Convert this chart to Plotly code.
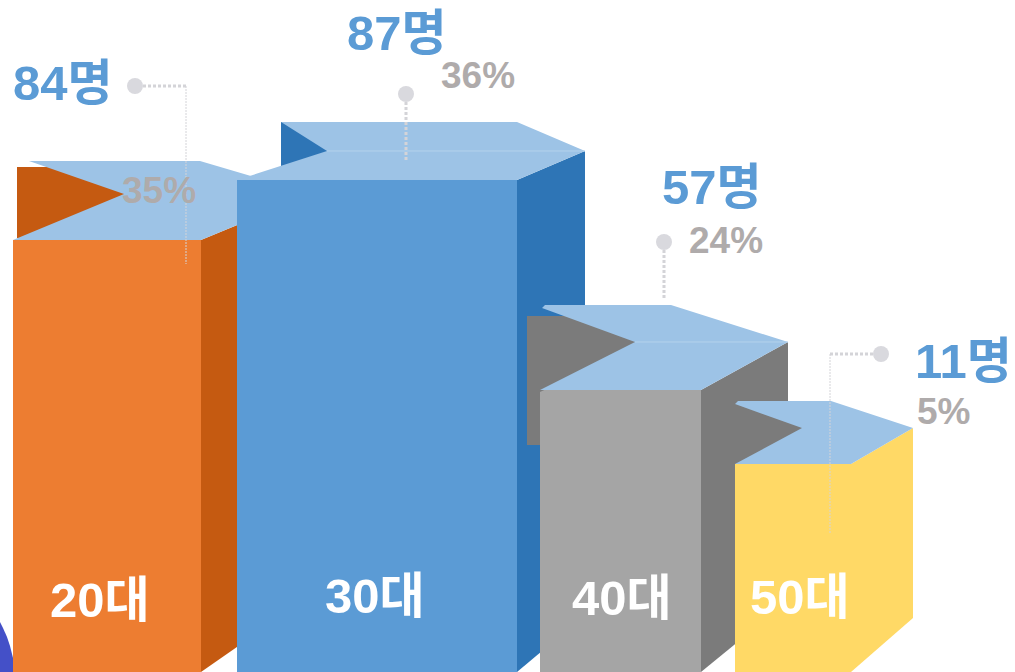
import plotly.graph_objects as go

# ---- data ----
categories = ["20대", "30대", "40대", "50대"]
counts = [84, 87, 57, 11]
shares = [35, 36, 24, 5]
drawn_heights = [432, 492, 282, 208]

# ---- layout of the pictogram (px) ----
W, H = 1015, 672
FRONT_LEFT = [13, 237, 540, 735]
FRONT_WIDTH = [188, 280, 161, 116]
SIDE_DX = [111, 68, 87, 62]
SIDE_DY = [46, 29, 48, 36]
BOTTOM_DY = [77, 57, 71, 54]
BACK_RISE = [79, 58, 85, 63]
BACK_RIGHT_DX = [-1, 0, -30, -20]
BACK_LEFT = [29, 281, 542, 735]
BACK_CHAMFER = [0, 0, 3, 3]
NOTCH_X = [124, 327, 635, 802]
SHOW_RIDGE = [False, True, True, False]
WELL_POLY = [
    [(17, 167), (130, 167), (130, 238), (17, 238)],
    [(281, 122), (335, 122), (335, 172), (281, 172)],
    [(527, 316), (640, 316), (640, 345), (540, 392), (540, 445), (527, 445)],
    [(737, 404), (810, 404), (810, 440), (737, 462)],
]
FRONT_COL = ["#ED7D31", "#5B9BD5", "#A5A5A5", "#FFD966"]
SIDE_COL = ["#C55A11", "#2E75B6", "#7B7B7B", "#FFD966"]
WELL_COL = ["#C55A11", "#2E75B6", "#7B7B7B", "#7B7B7B"]
TOP_COL = "#9DC3E6"
RIDGE_COL = "#B4D2EC"
BLUE = "#5B9BD5"
GREY = "#AFABAB"
DOT = "#D9D9DE"
LEADER = "#D4D4D8"
FONT = "Liberation Sans, Noto Sans CJK KR, sans-serif"

COUNT_POS = [(13, 83), (347, 33), (662, 187), (915, 361)]
SHARE_POS = [(122, 190), (441, 75), (689, 240), (917, 411)]
CAT_POS = [(50, 600), (325, 596), (572, 598), (750, 597)]
DOT_POS = [(135, 86), (406, 94), (664, 242), (881, 354)]
LEADER_H = [((143, 186), 86), None, None, ((830, 873), 354)]
LEADER_V = [(186, 86, 264, 1), (406, 102, 160, 3), (664, 250, 300, 3), (830, 354, 533, 1)]
BLOB_X = [0, 0, 3, 7, 10, 13, 13, 0]
BLOB_Y = [672, 622, 628, 637, 646, 658, 672, 672]


def Y(py):
    return H - py


def poly(points, color, xa, ya):
    xs = [p[0] for p in points] + [points[0][0]]
    ys = [Y(p[1]) for p in points] + [Y(points[0][1])]
    return go.Scatter(x=xs, y=ys, mode="lines", fill="toself", fillcolor=color,
                      line=dict(width=0, color=color), hoverinfo="skip",
                      showlegend=False, xaxis=xa, yaxis=ya)


fig = go.Figure()
n = len(categories)
layout_axes = {}
for k in range(n + 2):
    sx = "" if k == 0 else str(k + 1)
    xcfg = dict(range=[0, W], visible=False, fixedrange=True)
    ycfg = dict(range=[0, H], visible=False, fixedrange=True)
    if k:
        xcfg["overlaying"] = "x"
        ycfg["overlaying"] = "y"
    layout_axes["xaxis" + sx] = xcfg
    layout_axes["yaxis" + sx] = ycfg

# decorative corner blob
fig.add_trace(go.Scatter(x=BLOB_X, y=[Y(v) for v in BLOB_Y], mode="lines", fill="toself",
                         fillcolor="#4450C8", line=dict(width=0), hoverinfo="skip", showlegend=False))

for i in range(n):
    sx = "x" + str(i + 2)
    sy = "y" + str(i + 2)
    left = FRONT_LEFT[i]
    right = left + FRONT_WIDTH[i]
    top = H - drawn_heights[i]
    ridge = top - SIDE_DY[i]
    back = top - BACK_RISE[i]
    far = right + SIDE_DX[i]
    ch = BACK_CHAMFER[i]
    fig.add_trace(poly(WELL_POLY[i], WELL_COL[i], sx, sy))
    fig.add_trace(poly([(right, top), (far, ridge), (far, H - BOTTOM_DY[i]), (right, H)],
                       SIDE_COL[i], sx, sy))
    fig.add_trace(poly([(left, top), (NOTCH_X[i], ridge), (BACK_LEFT[i], back + ch),
                        (BACK_LEFT[i] + ch, back), (right + BACK_RIGHT_DX[i], back),
                        (far, ridge), (right, top)], TOP_COL, sx, sy))
    if SHOW_RIDGE[i]:
        fig.add_trace(go.Scatter(x=[NOTCH_X[i], far], y=[Y(ridge), Y(ridge)], mode="lines",
                                 line=dict(width=1, color=RIDGE_COL), hoverinfo="skip",
                                 showlegend=False, xaxis=sx, yaxis=sy))
    fig.add_trace(go.Bar(x=[(left + right) / 2], y=[drawn_heights[i]], width=[FRONT_WIDTH[i]],
                         marker=dict(color=FRONT_COL[i], line=dict(width=0)),
                         hoverinfo="skip", showlegend=False, xaxis=sx, yaxis=sy))

# leaders and dots on the top layer
tx = "x" + str(n + 2)
ty = "y" + str(n + 2)
for i in range(n):
    seg = LEADER_H[i]
    if seg:
        fig.add_trace(go.Scatter(x=list(seg[0]), y=[Y(seg[1])] * 2, mode="lines",
                                 line=dict(width=3, color=LEADER, dash="3px,2px"),
                                 hoverinfo="skip", showlegend=False, xaxis=tx, yaxis=ty))
    vx, v0, v1, vw = LEADER_V[i]
    fig.add_trace(go.Scatter(x=[vx, vx], y=[Y(v0), Y(v1)], mode="lines",
                             line=dict(width=vw, color=LEADER, dash="3px,2px" if vw > 1 else "2px,1px"),
                             hoverinfo="skip", showlegend=False, xaxis=tx, yaxis=ty))
    fig.add_trace(go.Scatter(x=[DOT_POS[i][0]], y=[Y(DOT_POS[i][1])], mode="markers",
                             marker=dict(size=16, color=DOT, line=dict(width=0)),
                             hoverinfo="skip", showlegend=False, xaxis=tx, yaxis=ty))

ann = []
for i in range(n):
    ann.append(dict(x=COUNT_POS[i][0], y=Y(COUNT_POS[i][1]), text=f"<b>{counts[i]}명</b>",
                    font=dict(size=49, color=BLUE, family=FONT)))
    ann.append(dict(x=SHARE_POS[i][0], y=Y(SHARE_POS[i][1]), text=f"<b>{shares[i]}%</b>",
                    font=dict(size=37, color=GREY, family=FONT)))
    ann.append(dict(x=CAT_POS[i][0], y=Y(CAT_POS[i][1]), text=f"<b>{categories[i]}</b>",
                    font=dict(size=49, color="#FFFFFF", family=FONT)))
for a in ann:
    a.update(xref="x", yref="y", xanchor="left", yanchor="middle", showarrow=False,
             borderpad=0, borderwidth=0)

fig.update_layout(width=W, height=H, margin=dict(l=0, r=0, t=0, b=0), autosize=False,
                  paper_bgcolor="white", plot_bgcolor="white", showlegend=False,
                  barmode="overlay", annotations=ann, **layout_axes)

fig.write_html("out.html", config={"displayModeBar": False},
               post_script="document.documentElement.style.overflow='hidden';document.body.style.margin='0';")
